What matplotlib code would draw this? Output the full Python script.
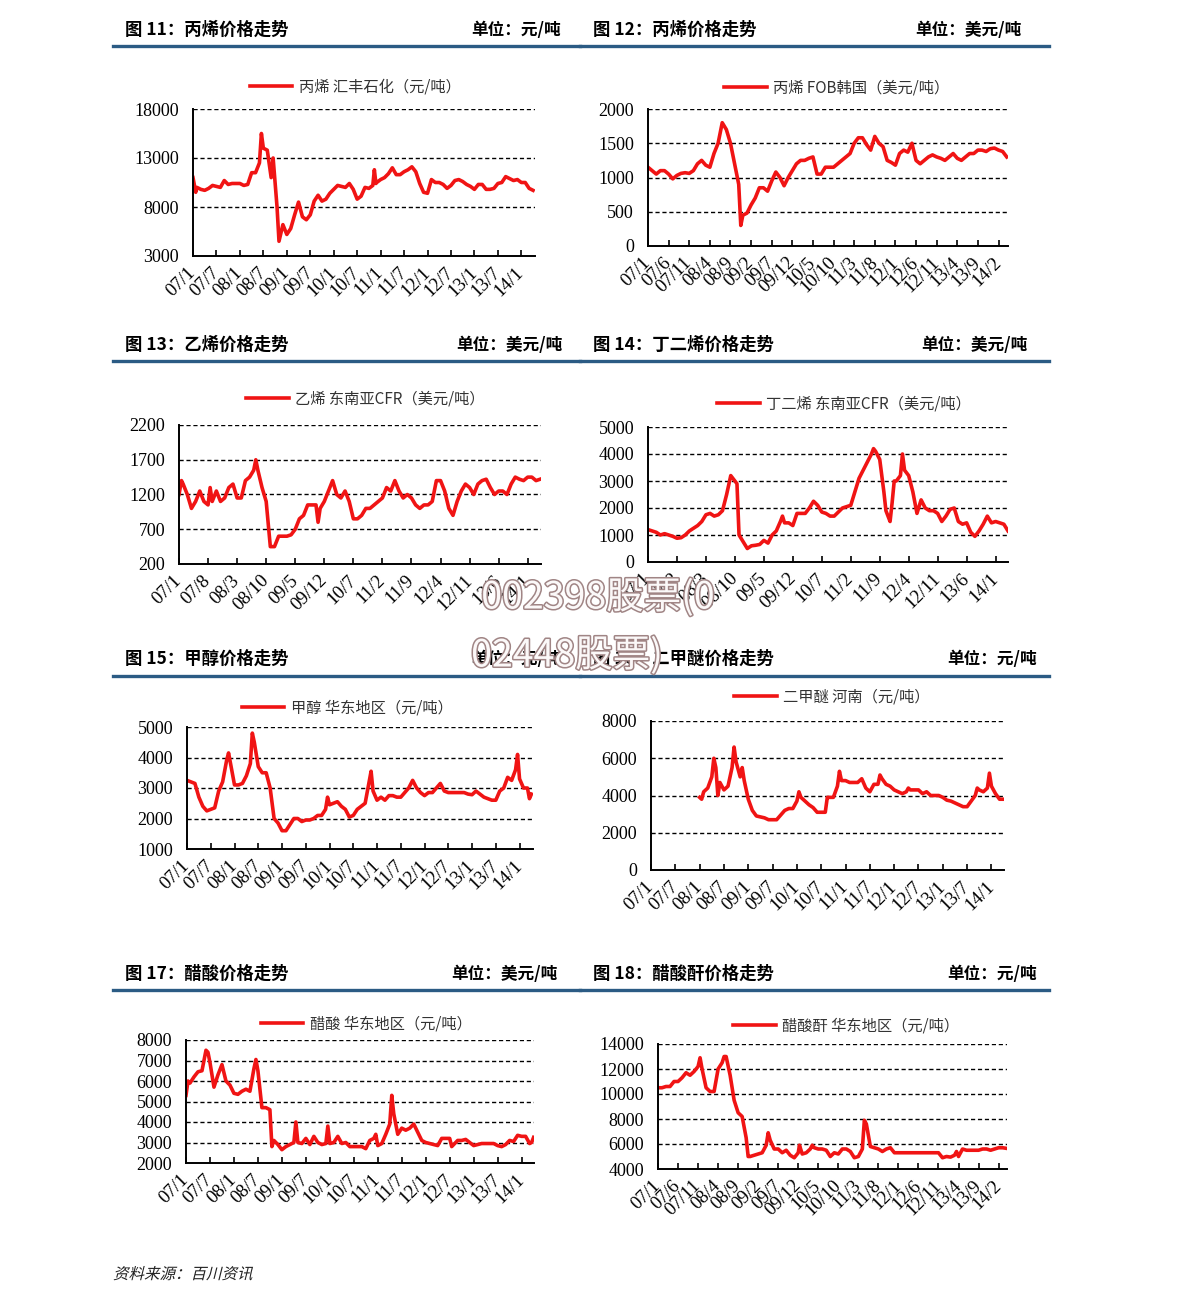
import matplotlib
matplotlib.use('Agg')
import matplotlib.pyplot as plt
import matplotlib.patheffects as pe
from matplotlib.textpath import TextPath
from matplotlib.patches import PathPatch
from matplotlib.font_manager import FontProperties
from matplotlib.transforms import Affine2D

W, H = 1191, 1300

plt.rcParams['font.family'] = ['Noto Sans CJK SC', 'DejaVu Sans']

# ---------------- data (x = months since 2007/1) ----------------
# fig 11: propylene, Huifeng (yuan/t)
x11 = [0, 0.7, 1, 2, 3, 4, 5, 6, 7, 8, 9, 10, 11, 12, 13, 14, 15, 16, 17, 17.5, 18, 19, 20, 20.5,
       21, 21.5, 22, 23, 24, 25, 26, 27, 28, 29, 30, 31, 32, 33, 34, 35, 36, 37, 38, 39, 40, 41,
       42, 43, 44, 45, 46, 46.4, 46.8, 47, 48, 49, 50, 51, 52, 53, 54, 55, 56, 57, 58, 59, 60, 61,
       62, 63, 64, 65, 66, 67, 68, 69, 70, 71, 72, 73, 74, 75, 76, 77, 78, 79, 80, 81, 82, 83, 84,
       85, 86, 87]
y11 = [11000, 9500, 10000, 9800, 9700, 9900, 10200, 10100, 10000, 10700, 10300, 10400, 10400,
       10400, 10200, 10300, 11500, 11500, 12500, 15500, 14000, 13800, 11000, 13000, 10500, 8000,
       4500, 6200, 5200, 5800, 7200, 8500, 7000, 6700, 7200, 8600, 9200, 8600, 8800, 9400, 9800,
       10200, 10100, 10000, 10400, 9800, 8800, 9100, 10000, 9900, 10200, 11800, 10400, 10500,
       10800, 11000, 11400, 12000, 11300, 11300, 11600, 11800, 12100, 11600, 10400, 9500, 9400,
       10800, 10500, 10500, 10300, 9900, 10200, 10700, 10800, 10600, 10300, 10100, 9800, 10300,
       10300, 9800, 9800, 9900, 10400, 10500, 11100, 10900, 10700, 10800, 10500, 10500, 9900, 9700]

# fig 12: propylene FOB Korea (usd/t)
x12 = [0, 1, 2, 3, 4, 5, 6, 7, 8, 9, 10, 11, 12, 13, 14, 15, 15.5, 16, 17, 18, 19, 20, 21, 22,
       22.5, 23, 24, 25, 26, 27, 28, 29, 30, 31, 32, 33, 34, 35, 36, 37, 38, 39, 40, 41, 42, 43,
       44, 45, 46, 47, 48, 49, 50, 51, 52, 53, 54, 55, 56, 57, 58, 59, 60, 61, 62, 63, 64, 65, 66,
       67, 68, 69, 70, 71, 72, 73, 74, 75, 76, 77, 78, 79, 80, 81, 82, 83, 84, 85, 86, 87]
y12 = [1150, 1100, 1050, 1100, 1100, 1050, 980, 1030, 1060, 1070, 1060, 1100, 1200, 1250, 1180,
       1150, 1250, 1350, 1500, 1800, 1700, 1500, 1200, 900, 300, 450, 480, 600, 700, 850, 850, 800,
       950, 1080, 1000, 880, 1000, 1100, 1200, 1250, 1250, 1280, 1300, 1050, 1050, 1150, 1150,
       1150, 1200, 1250, 1300, 1350, 1500, 1580, 1580, 1480, 1400, 1600, 1500, 1450, 1250, 1220,
       1180, 1350, 1400, 1370, 1500, 1250, 1200, 1250, 1300, 1330, 1300, 1280, 1250, 1300, 1350,
       1280, 1250, 1300, 1350, 1350, 1400, 1400, 1380, 1420, 1430, 1400, 1380, 1300]

# fig 13: ethylene CFR SE Asia (usd/t)
x13 = [0, 0.6, 1, 2, 3, 4, 5, 6, 7, 7.5, 8, 9, 10, 11, 12, 13, 14, 15, 16, 17, 18, 18.5, 19, 20,
       21, 22, 23, 24, 25, 26, 27, 28, 29, 30, 31, 32, 33, 33.5, 34, 35, 36, 37, 38, 39, 40, 41,
       42, 43, 44, 45, 46, 47, 48, 49, 50, 51, 52, 53, 54, 55, 56, 57, 58, 59, 60, 61, 62, 63, 64,
       65, 66, 67, 68, 69, 70, 71, 72, 73, 74, 75, 76, 77, 78, 79, 80, 81, 82, 83, 84, 85, 86, 87]
y13 = [1200, 1400, 1350, 1200, 1000, 1100, 1250, 1100, 1050, 1300, 1100, 1250, 1100, 1150, 1300,
       1350, 1150, 1150, 1400, 1450, 1550, 1700, 1550, 1300, 1100, 450, 450, 600, 600, 600, 620,
       700, 850, 900, 1050, 1050, 1050, 800, 1000, 1100, 1250, 1400, 1200, 1150, 1250, 1100, 850,
       850, 900, 1000, 1000, 1050, 1100, 1150, 1300, 1250, 1400, 1250, 1150, 1200, 1150, 1050,
       1000, 1050, 1050, 1100, 1400, 1400, 1250, 1000, 900, 1100, 1250, 1350, 1300, 1200, 1350,
       1400, 1420, 1300, 1200, 1250, 1250, 1200, 1350, 1450, 1420, 1400, 1450, 1450, 1400, 1420]

# fig 14: butadiene CFR SE Asia (usd/t)
x14 = [0, 1, 2, 3, 4, 5, 6, 7, 8, 9, 10, 11, 12, 13, 14, 15, 16, 17, 18, 19, 20, 21, 21.5, 22, 23,
       24, 25, 26, 27, 28, 29, 30, 31, 32, 32.5, 33, 34, 35, 36, 37, 38, 39, 40, 41, 42, 43, 44,
       45, 46, 47, 48, 49, 50, 51, 52, 53, 54, 54.5, 55, 56, 57, 57.5, 58, 58.5, 59, 59.5, 60, 61,
       61.5, 62, 63, 64, 65, 66, 67, 68, 69, 70, 71, 72, 73, 74, 75, 76, 77, 78, 79, 80, 81, 82,
       83, 84, 85, 86, 87]
y14 = [1200, 1150, 1100, 1000, 1050, 1000, 950, 880, 900, 1000, 1150, 1250, 1350, 1500, 1750,
       1800, 1700, 1750, 1900, 2500, 3200, 3000, 2900, 1000, 750, 500, 600, 620, 650, 800, 700,
       1000, 1150, 1500, 1700, 1450, 1450, 1350, 1800, 1800, 1800, 2000, 2250, 2100, 1850, 1800,
       1700, 1700, 1850, 2000, 2050, 2100, 2600, 3100, 3400, 3700, 4000, 4200, 4100, 3800, 2600,
       1900, 1700, 1500, 2200, 3000, 3000, 3200, 4000, 3400, 3200, 2600, 1800, 2300, 2000, 1900,
       1900, 1800, 1500, 1700, 1950, 2000, 1500, 1400, 1450, 1100, 950, 1150, 1400, 1700, 1450,
       1500, 1450, 1400, 1150]

# fig 15: methanol East China (yuan/t)
x15 = [0, 1, 2, 3, 4, 5, 6, 7, 8, 9, 10, 10.5, 11, 12, 13, 14, 15, 16, 16.5, 17, 18, 19, 20, 21,
       22, 23, 24, 25, 26, 27, 28, 29, 30, 31, 32, 33, 34, 35, 35.5, 36, 37, 38, 39, 40, 41, 42,
       43, 44, 45, 46, 46.5, 47, 48, 49, 50, 51, 52, 53, 54, 55, 56, 57, 58, 59, 60, 61, 62, 63,
       64, 65, 66, 67, 68, 69, 70, 71, 72, 73, 74, 75, 76, 77, 78, 79, 80, 81, 82, 83, 83.5, 84,
       85, 86, 86.5, 87]
y15 = [3250, 3200, 3150, 2700, 2400, 2250, 2300, 2350, 2900, 3200, 3900, 4150, 3800, 3100, 3100,
       3150, 3400, 3800, 4800, 4500, 3700, 3500, 3500, 3000, 2000, 1850, 1600, 1600, 1800, 2000,
       2000, 1900, 1950, 1950, 2000, 2100, 2100, 2300, 2700, 2450, 2500, 2550, 2400, 2300, 2050,
       2100, 2300, 2400, 2500, 3200, 3550, 2900, 2600, 2700, 2600, 2750, 2750, 2700, 2700, 2850,
       3000, 3250, 3000, 2850, 2750, 2850, 2850, 3000, 3150, 2900, 2850, 2850, 2850, 2850, 2850,
       2800, 2780, 2900, 2800, 2700, 2650, 2600, 2600, 2900, 3000, 3350, 3250, 3600, 4100, 3300,
       3000, 3000, 2650, 2800]

# fig 16: DME Henan (yuan/t), starts 2008/1
x16 = [12, 12.5, 13, 14, 15, 15.5, 16, 16.5, 17, 18, 19, 20, 20.5, 21, 22, 22.5, 23, 24, 25, 26,
       27, 28, 29, 30, 31, 32, 33, 34, 35, 36, 36.5, 37, 38, 39, 40, 41, 42, 43, 43.5, 44, 45, 46,
       46.5, 47, 48, 49, 50, 51, 52, 53, 54, 55, 56, 56.5, 57, 58, 59, 60, 61, 62, 63, 63.5, 64,
       65, 66, 67, 68, 69, 70, 71, 72, 73, 74, 75, 76, 77, 78, 79, 80, 80.5, 81, 82, 83, 83.5, 84,
       85, 86, 87]
y16 = [3900, 3800, 4200, 4400, 5000, 6000, 5500, 4000, 4700, 4300, 4500, 5500, 6600, 5800, 5000,
       5500, 4800, 3800, 3200, 2900, 2850, 2800, 2700, 2700, 2700, 2950, 3200, 3300, 3300, 3700,
       4200, 3900, 3700, 3500, 3350, 3100, 3100, 3100, 3900, 3900, 3900, 4500, 5300, 4800, 4800,
       4700, 4700, 4700, 4900, 4400, 4200, 4600, 4600, 5100, 4900, 4600, 4500, 4300, 4200, 4100,
       4200, 4400, 4300, 4300, 4300, 4100, 4200, 4000, 4000, 4000, 3900, 3750, 3700, 3600, 3500,
       3400, 3400, 3700, 4000, 4400, 4300, 4200, 4400, 5200, 4500, 4100, 3800, 3800]

# fig 17: acetic acid East China
x17 = [0, 0.5, 1, 2, 3, 4, 5, 5.5, 6, 7, 8, 9, 10, 11, 12, 13, 14, 15, 16, 17, 17.5, 18, 19, 20,
       21, 21.5, 22, 23, 24, 25, 26, 27, 27.5, 28, 29, 30, 31, 32, 33, 34, 35, 35.5, 36, 37, 38,
       39, 40, 41, 42, 43, 44, 45, 46, 47, 47.5, 48, 49, 50, 51, 51.5, 52, 53, 54, 55, 56, 57, 58,
       59, 60, 61, 62, 63, 64, 65, 66, 66.5, 67, 68, 69, 70, 71, 72, 73, 74, 75, 76, 77, 78, 79,
       80, 81, 82, 83, 84, 85, 86, 86.5, 87]
y17 = [5300, 6000, 5900, 6200, 6450, 6500, 7500, 7400, 6900, 5700, 6300, 6800, 6000, 5800, 5400,
       5350, 5500, 5600, 5500, 6600, 7050, 6500, 4700, 4700, 4600, 2800, 3100, 2900, 2650, 2800,
       2900, 3000, 4000, 3000, 2950, 3200, 2900, 3300, 3000, 2900, 2950, 3800, 2950, 3000, 3300,
       2950, 3000, 2800, 2800, 2800, 2800, 2700, 3100, 3200, 3400, 2850, 2950, 3400, 3900, 5300,
       4400, 3400, 3700, 3600, 3700, 3900, 3500, 3100, 3000, 2950, 2900, 2850, 3200, 3200, 3200,
       2800, 2900, 3100, 3100, 3150, 3000, 2850, 2900, 2950, 2950, 2950, 2950, 2850, 2800, 2900,
       3100, 3050, 3350, 3300, 3300, 2950, 3000, 3250]

# fig 18: acetic anhydride East China (yuan/t)
x18 = [0, 1, 2, 3, 4, 5, 6, 7, 8, 9, 10, 10.5, 11, 12, 13, 14, 15, 16, 16.5, 17, 18, 19, 20, 21,
       22, 22.5, 23, 24, 25, 26, 27, 27.5, 28, 29, 30, 31, 32, 33, 34, 35, 35.3, 36, 37, 38, 38.5,
       39, 40, 41, 42, 43, 44, 45, 46, 47, 48, 49, 50, 51, 51.5, 52, 53, 54, 55, 56, 57, 58, 59,
       60, 65, 70, 71, 72, 73, 74, 74.5, 75, 76, 77, 78, 79, 80, 81, 82, 83, 84, 85, 86, 87]
y18 = [10500, 10500, 10600, 10600, 11000, 11000, 11300, 11700, 11500, 11800, 12200, 12900, 12000,
       10500, 10200, 10200, 12000, 12500, 13000, 13000, 11500, 9500, 8500, 8200, 6500, 5000, 5000,
       5100, 5200, 5300, 5900, 6900, 6300, 5600, 5600, 5300, 5500, 5100, 4900, 5300, 5900, 5200,
       5300, 5600, 5900, 5700, 5600, 5600, 5500, 5000, 5300, 5200, 5600, 5600, 5400, 4900, 5000,
       5600, 7900, 7600, 5800, 5700, 5600, 5400, 5600, 5700, 5300, 5300, 5300, 5300, 4900, 5000,
       4950, 5100, 5400, 5000, 5600, 5500, 5500, 5500, 5500, 5600, 5600, 5500, 5600, 5700, 5700,
       5650]

# tick labels
lab_6m = ['07/1', '07/7', '08/1', '08/7', '09/1', '09/7', '10/1', '10/7', '11/1', '11/7',
          '12/1', '12/7', '13/1', '13/7', '14/1']
lab_5m = ['07/1', '07/6', '07/11', '08/4', '08/9', '09/2', '09/7', '09/12', '10/5', '10/10',
          '11/3', '11/8', '12/1', '12/6', '12/11', '13/4', '13/9', '14/2']
lab_7m = ['07/1', '07/8', '08/3', '08/10', '09/5', '09/12', '10/7', '11/2', '11/9', '12/4',
          '12/11', '13/6', '14/1']

RED = '#F01414'
BLUE = '#2B5B84'
SERIF = ['Liberation Serif', 'DejaVu Serif']

fig = plt.figure(figsize=(W / 100, H / 100), dpi=100)


def fx(px):
    return px / W


def fy(py):
    return 1 - py / H


def draw_header(x0, x1, y_text, y_line, title, unit, unit_right, title_left):
    fig.text(fx(title_left), fy(y_text), title, fontsize=12.5, fontweight='bold',
             ha='left', va='center', color='black')
    fig.text(fx(unit_right), fy(y_text), unit, fontsize=12, fontweight='bold',
             ha='right', va='center', color='black')
    fig.add_artist(plt.Line2D([fx(x0), fx(x1)], [fy(y_line), fy(y_line)],
                              color=BLUE, lw=2.4, transform=fig.transFigure))


def draw_panel(rect, x, y, ylim, ystep, labels, xstep, xmax, legend_label, legend_xy):
    left, top, right, bottom = rect
    ax = fig.add_axes([fx(left), fy(bottom), fx(right - left), (bottom - top) / H])
    ax.plot(x, y, color=RED, lw=2.6, label=legend_label, solid_joinstyle='round')
    ax.set_xlim(0, xmax)
    ax.set_ylim(*ylim)
    yt = list(range(ylim[0], ylim[1] + 1, ystep))
    ax.set_yticks(yt)
    ax.set_yticklabels([str(v) for v in yt], fontfamily=SERIF, fontsize=13)
    ax.set_xticks([i * xstep for i in range(len(labels))])
    ax.set_xticklabels(labels, fontfamily=SERIF, fontsize=13.5, rotation=45,
                       ha='right', va='center', rotation_mode='anchor')
    for v in yt[1:]:
        ax.axhline(v, color='black', lw=1.0, ls=(0, (3, 2)), zorder=1)
    for s in ['top', 'right']:
        ax.spines[s].set_visible(False)
    for s in ['left', 'bottom']:
        ax.spines[s].set_linewidth(1.4)
    ax.tick_params(axis='x', direction='in', length=4.5, width=1.2, pad=10)
    ax.tick_params(axis='y', length=0, pad=10)
    ax.legend(loc='center', bbox_to_anchor=(fx(legend_xy[0]), fy(legend_xy[1])),
              bbox_transform=fig.transFigure, frameon=False, fontsize=11,
              handlelength=2.8, handletextpad=0.4, labelcolor='#333333')
    return ax


# headers
draw_header(113, 580, 30, 46, '图 11：丙烯价格走势', '单位：元/吨', 561, 125)
draw_header(580, 1049, 30, 46, '图 12：丙烯价格走势', '单位：美元/吨', 1021, 593)
draw_header(113, 580, 345, 361, '图 13：乙烯价格走势', '单位：美元/吨', 562, 125)
draw_header(580, 1049, 345, 361, '图 14：丁二烯价格走势', '单位：美元/吨', 1027, 593)
draw_header(113, 580, 659, 676, '图 15：甲醇价格走势', '单位：元/吨', 561, 125)
draw_header(580, 1049, 659, 676, '图 16：二甲醚价格走势', '单位：元/吨', 1037, 593)
draw_header(113, 580, 974, 990, '图 17：醋酸价格走势', '单位：美元/吨', 557, 125)
draw_header(580, 1049, 974, 990, '图 18：醋酸酐价格走势', '单位：元/吨', 1037, 593)

# panels
draw_panel((193, 109, 535, 256), x11, y11, (3000, 18000), 5000, lab_6m, 6, 87.5,
           '丙烯 汇丰石化（元/吨）', (355, 87))
draw_panel((648, 109, 1008, 246), x12, y12, (0, 2000), 500, lab_5m, 5, 87.3,
           '丙烯 FOB韩国（美元/吨）', (837, 88))
draw_panel((179, 425, 541, 564), x13, y13, (200, 2200), 500, lab_7m, 7, 87.2,
           '乙烯 东南亚CFR（美元/吨）', (365, 399))
draw_panel((648, 427, 1008, 562), x14, y14, (0, 5000), 1000, lab_7m, 7, 87.0,
           '丁二烯 东南亚CFR（美元/吨）', (844, 404))
draw_panel((187, 727, 533, 849), x15, y15, (1000, 5000), 1000, lab_6m, 6, 87.4,
           '甲醇 华东地区（元/吨）', (347, 708))
draw_panel((651, 721, 1004, 870), x16, y16, (0, 8000), 2000, lab_6m, 6, 87.1,
           '二甲醚 河南（元/吨）', (832, 697))
draw_panel((186, 1040, 534, 1163), x17, y17, (2000, 8000), 1000, lab_6m, 6, 87.1,
           '醋酸 华东地区（元/吨）', (366, 1024))
draw_panel((658, 1044, 1007, 1169), x18, y18, (4000, 14000), 2000, lab_5m, 5, 87.1,
           '醋酸酐 华东地区（元/吨）', (846, 1026))

# source note, slanted like the original italic
src_path = TextPath((0, 0), '资料来源：百川资讯', size=15.5,
                    prop=FontProperties(family='Noto Sans CJK SC'))
src_tr = Affine2D().skew_deg(14, 0).translate(113, H - 1279)
fig.add_artist(PathPatch(src_path, transform=src_tr, facecolor='#222222', lw=0))

# watermark (overlaps the charts in the original too)
wm_fx = [pe.withStroke(linewidth=2.2, foreground='#A08585')]
fig.text(fx(598), fy(598), '002398股票(0', fontsize=27, ha='center', va='center',
         color='#FBF8F8', path_effects=wm_fx, zorder=20)
fig.text(fx(567), fy(656), '02448股票)', fontsize=27, ha='center', va='center',
         color='#FBF8F8', path_effects=wm_fx, zorder=20)

fig.savefig('out.png', dpi=100)
